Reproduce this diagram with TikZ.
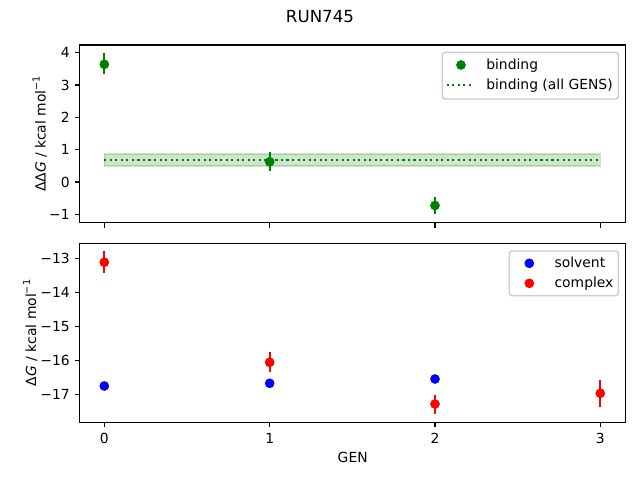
\documentclass[tikz,border=0pt]{standalone}
\usepackage{fontspec}
\setmainfont{DejaVu Sans}
\definecolor{mplgreen}{RGB}{0,128,0}
\definecolor{mplblue}{RGB}{0,0,255}
\definecolor{mplred}{RGB}{255,0,0}
\definecolor{legedge}{RGB}{204,204,204}
\newcommand{\supm}{\raisebox{0.43em}{\fontsize{7}{7}\selectfont −1}}
\begin{document}
\begin{tikzpicture}[x=0.72pt,y=-0.72pt,
  axisframe/.style={line width=0.8pt, draw=black},
  tickmark/.style={line width=0.8pt, draw=black},
  ticklab/.style={font=\fontsize{10}{12}\selectfont, inner sep=0pt},
  ylab/.style={font=\fontsize{10}{12}\selectfont, inner sep=0pt, rotate=90, anchor=base},
  ebar/.style={line width=1.5pt},
  dot/.style={circle, inner sep=0pt, minimum size=7pt, draw=none},
  legframe/.style={draw=legedge, line width=1pt, fill=white, fill opacity=0.8, rounded corners=2pt},
  legtext/.style={font=\fontsize{10}{12}\selectfont, inner sep=0pt, anchor=base west},
  mpldotted/.style={line width=1.5pt, dash pattern=on 1.5pt off 2.475pt}
]
\useasboundingbox (0,0) rectangle (640,480);
\fill[white] (0,0) rectangle (640,480);

% ---------- title ----------
\node[font=\fontsize{12}{14}\selectfont, inner sep=0pt, anchor=base] (title) at (320,22.7) {RUN745};

% ---------- top axes ----------
% band and average line
\path[fill=mplgreen, draw=mplgreen, fill opacity=0.2, draw opacity=0.2, line width=1pt]
  (104.3,154) rectangle (600.3,166);
\coordinate (avgL) at (104.3,159.8);
\coordinate (avgR) at (600.3,159.8);
\draw[mplgreen, mpldotted] (avgL) -- (avgR);

% error bars
\draw[mplgreen, ebar] (104.3,53.3) -- (104.3,74.3);
\draw[mplgreen, ebar] (269.7,152.3) -- (269.7,171.3);
\draw[mplgreen, ebar] (435,196.7) -- (435,214.3);
% markers
\node[dot, fill=mplgreen] (b0) at (104.3,64.3) {};
\node[dot, fill=mplgreen] (b1) at (269.7,161.8) {};
\node[dot, fill=mplgreen] (b2) at (435,205.5) {};

% frame
\draw[axisframe] (79.7,45) rectangle (625.7,222.7);
% x ticks (no labels)
\foreach \xx in {104.3,269.7,435,600.3}
  \draw[tickmark] (\xx,222.7) -- (\xx,227.6);
% y ticks
\foreach \yy/\lab in {52.7/4,85.0/3,117.3/2,149.7/1,182.0/0,214.3/−1} {
  \draw[tickmark] (79.7,\yy) -- (74.8,\yy);
  \node[ticklab, anchor=east] at (70,\yy) {\lab};
}
\node[ylab] (ylabtop) at (45.5,134) {ΔΔ\textit{G} / kcal mol\supm};

% legend top
\draw[legframe] (442.3,52.3) rectangle (618.3,99);
\node[dot, fill=mplgreen] (lb) at (461,65) {};
\node[legtext] (lbt) at (486,69) {binding};
\coordinate (ldL) at (446.7,85);
\coordinate (ldR) at (470.7,85);
\draw[mplgreen, mpldotted] (ldL) -- (ldR);
\node[legtext] (ldt) at (486,89) {binding (all GENS)};

% ---------- bottom axes ----------
% complex error bars
\draw[mplred, ebar] (104.3,251) -- (104.3,272.7);
\draw[mplred, ebar] (269.7,352.3) -- (269.7,371.7);
\draw[mplred, ebar] (435,394.7) -- (435,413.7);
\draw[mplred, ebar] (600.3,380) -- (600.3,406.7);
% solvent markers
\node[dot, fill=mplblue] (s0) at (104.3,386) {};
\node[dot, fill=mplblue] (s1) at (269.7,383.3) {};
\node[dot, fill=mplblue] (s2) at (435,379) {};
% complex markers
\node[dot, fill=mplred] (c0) at (104.3,262.3) {};
\node[dot, fill=mplred] (c1) at (269.7,362.3) {};
\node[dot, fill=mplred] (c2) at (435,404) {};
\node[dot, fill=mplred] (c3) at (600.3,393.3) {};

\draw[axisframe] (79.7,243.3) rectangle (625.7,422.3);
\foreach \xx/\lab in {104.3/0,269.7/1,435/2,600.3/3} {
  \draw[tickmark] (\xx,422.3) -- (\xx,427.2);
  \node[ticklab, anchor=north] at (\xx,433.3) {\lab};
}
\foreach \yy/\lab in {258.3/−13,292.4/−14,326.5/−15,360.6/−16,394.7/−17} {
  \draw[tickmark] (79.7,\yy) -- (74.8,\yy);
  \node[ticklab, anchor=east] at (70,\yy) {\lab};
}
\node[ylab] (ylabbot) at (36.2,333) {Δ\textit{G} / kcal mol\supm};
\node[font=\fontsize{10}{12}\selectfont, inner sep=0pt, anchor=base] (xlab) at (352.7,462.3) {GEN};

% legend bottom
\draw[legframe] (509.3,251) rectangle (618.3,295.7);
\node[dot, fill=mplblue] (ls) at (529.3,263.3) {};
\node[legtext] (lst) at (554.3,267.3) {solvent};
\node[dot, fill=mplred] (lc) at (529.3,283.3) {};
\node[legtext] (lct) at (554.3,287.3) {complex};
\end{tikzpicture}
\end{document}
